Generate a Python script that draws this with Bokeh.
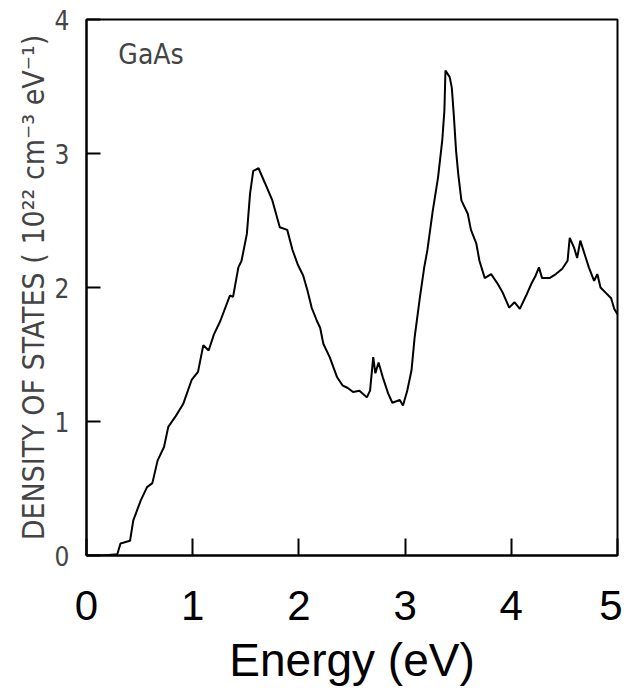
from bokeh.plotting import figure
from bokeh.models import FixedTicker, Label, Range1d
from bokeh.embed import file_html
from bokeh.resources import INLINE

energy = [0.00, 0.15, 0.29, 0.32, 0.41, 0.44, 0.51, 0.57, 0.62, 0.67, 0.73, 0.77, 0.84, 0.91,
          0.99, 1.05, 1.10, 1.15, 1.20, 1.26, 1.35, 1.38, 1.43, 1.46, 1.51, 1.54, 1.57, 1.62,
          1.68, 1.75, 1.82, 1.89, 1.94, 1.99, 2.04, 2.08, 2.12, 2.17, 2.20, 2.23, 2.29, 2.36,
          2.41, 2.46, 2.51, 2.57, 2.64, 2.67, 2.70, 2.72, 2.75, 2.79, 2.84, 2.88, 2.95, 2.98,
          3.02, 3.06, 3.09, 3.14, 3.18, 3.21, 3.26, 3.31, 3.35, 3.37, 3.38, 3.42, 3.44, 3.46,
          3.48, 3.50, 3.53, 3.59, 3.62, 3.67, 3.70, 3.75, 3.81, 3.87, 3.92, 3.98, 4.03, 4.08,
          4.14, 4.19, 4.23, 4.26, 4.29, 4.36, 4.42, 4.48, 4.53, 4.55, 4.59, 4.62, 4.65, 4.69,
          4.73, 4.78, 4.81, 4.84, 4.89, 4.94, 4.97, 5.00]
dos = [0.00, 0.00, 0.01, 0.09, 0.11, 0.26, 0.41, 0.51, 0.54, 0.71, 0.81, 0.96, 1.04, 1.13,
       1.31, 1.37, 1.57, 1.53, 1.65, 1.75, 1.94, 1.93, 2.15, 2.20, 2.40, 2.70, 2.87, 2.89,
       2.78, 2.65, 2.45, 2.43, 2.28, 2.17, 2.09, 1.98, 1.85, 1.75, 1.70, 1.58, 1.48, 1.33,
       1.27, 1.25, 1.22, 1.23, 1.18, 1.23, 1.48, 1.36, 1.44, 1.33, 1.21, 1.14, 1.16, 1.12,
       1.23, 1.38, 1.63, 1.93, 2.15, 2.28, 2.57, 2.82, 3.10, 3.32, 3.62, 3.57, 3.49, 3.27,
       3.02, 2.85, 2.65, 2.55, 2.43, 2.33, 2.20, 2.07, 2.10, 2.03, 1.96, 1.85, 1.89, 1.84,
       1.94, 2.03, 2.09, 2.15, 2.07, 2.07, 2.10, 2.14, 2.20, 2.37, 2.30, 2.22, 2.35, 2.25,
       2.15, 2.05, 2.10, 2.00, 1.96, 1.92, 1.84, 1.80]

x_ticks = [0, 1, 2, 3, 4, 5]
y_ticks = [0, 1, 2, 3, 4]
x_title = "Energy (eV)"
y_title = "DENSITY OF STATES ( 10²² cm⁻³ eV⁻¹)"
material = "GaAs"

NARROW = "'Liberation Sans Narrow', 'DejaVu Sans Condensed', 'Arial Narrow', sans-serif"

p = figure(width=622, height=691, output_backend="svg", toolbar_location=None,
           x_range=Range1d(0, 5), y_range=Range1d(0, 4),
           min_border_left=86, min_border_top=19, min_border_right=5, min_border_bottom=136)

p.line(energy, dos, line_color="black", line_width=2)

p.grid.visible = False
p.outline_line_color = "black"
p.outline_line_width = 2
p.background_fill_color = "white"
p.border_fill_color = "white"

xa = p.xaxis[0]
xa.ticker = FixedTicker(ticks=x_ticks)
xa.axis_line_width = 2
xa.major_tick_in = 17
xa.major_tick_out = 0
xa.major_tick_line_width = 2
xa.minor_tick_line_color = None
xa.major_label_text_font = "Liberation Sans"
xa.major_label_text_font_size = "42px"
xa.major_label_text_color = "black"
xa.major_label_standoff = 35
xa.axis_label = x_title
xa.axis_label_text_font = "Liberation Sans"
xa.axis_label_text_font_size = "46px"
xa.axis_label_text_font_style = "normal"
xa.axis_label_text_color = "black"
xa.axis_label_standoff = 11

ya = p.yaxis[0]
ya.ticker = FixedTicker(ticks=y_ticks)
ya.axis_line_width = 2
ya.major_tick_in = 14
ya.major_tick_out = 0
ya.major_tick_line_width = 2
ya.minor_tick_line_color = None
ya.major_label_text_font = NARROW
ya.major_label_text_font_size = "26px"
ya.major_label_text_color = "#444444"
ya.major_label_standoff = 17
ya.axis_label = y_title
ya.axis_label_text_font = NARROW
ya.axis_label_text_font_size = "30px"
ya.axis_label_text_font_style = "normal"
ya.axis_label_text_color = "#444444"
ya.axis_label_standoff = 1

p.add_layout(Label(x=0.30, y=3.86, text=material, text_font=NARROW, text_font_size="28px",
                   text_color="#444444", text_baseline="top", text_align="left"))

open("out.html", "w").write(file_html(p, INLINE))
